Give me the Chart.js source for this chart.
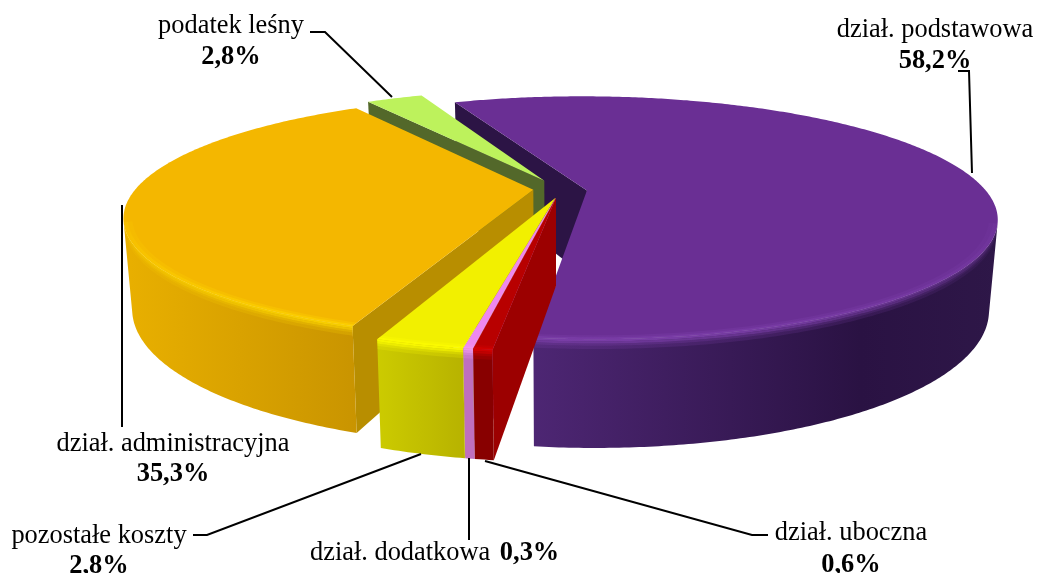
<!DOCTYPE html>
<html>
<head>
<meta charset="utf-8">
<style>
html, body { margin: 0; padding: 0; background: #fff; overflow: hidden; }
canvas { display: block; }
</style>
<script src="https://cdn.jsdelivr.net/npm/chart.js@4"></script>
</head>
<body>
<canvas id="pie" width="1037" height="573"></canvas>
<script>
// values as printed on the chart
var categories = ["dział. podstawowa", "dział. uboczna", "dział. dodatkowa", "pozostałe koszty", "dział. administracyjna", "podatek leśny"];
var shares = [58.2, 0.6, 0.3, 2.8, 35.3, 2.8];

var topColors = ["#6a2f94", "#b80000", "#ee88ee", "#f2f000", "#f4b700", "#bdf25c"];
var cutColors = ["#2c1445", "#9c0000", "#bb6fbb", "#b8b800", "#b88e00", "#53682a"];
var rimColors = ["#7e40ac", "#d80000", "#f09af0", "#ffff00", "#ffd800", "#c8f870"];
var wallStops = [
    [[535, "#4d2673"], [860, "#2a1243"], [1000, "#2e1748"]],
    [[465, "#880000"], [500, "#880000"]],
    [[455, "#bf6fbf"], [475, "#bf6fbf"]],
    [[378, "#cccb00"], [462, "#b8b300"]],
    [[122, "#e9b000"], [358, "#c99400"]],
    [[360, "#53682a"], [420, "#53682a"]]
];
var explode = [[0.0725, -0.012], [-0.005, 0.05], [-0.0055, 0.05], [-0.006, 0.05], [-0.062, -0.02], [-0.035, -0.1]];
var paintOrder = [0, 5, 4, 3, 2, 1];

// camera for the flat pie
var CX = 558, CY = 192, RX = 400, RY = 116, K = 0.224, H = 87, SHRINK = 0.02;

// label anchors: text lines and leader polylines
var leaders = [
    [[958, 71], [969, 71], [972, 173]],
    [[768, 535], [752, 535], [485, 461]],
    [[469, 458], [469, 540]],
    [[193, 535], [207, 535], [421, 454]],
    [[122, 205], [122, 427]],
    [[310, 32], [325, 32], [392, 97]]
];
var labelPos = [
    { x: 935, y: 37, y2: 68 },
    { x: 851, y: 540, y2: 572 },
    { x: 310, y: 560, inline: true },
    { x: 99, y: 543, y2: 573 },
    { x: 173, y: 451, y2: 481 },
    { x: 231, y: 33, y2: 64 }
];
var FONT_SIZE = 26.4;

// strips of the bright edge: [radius, depth, radius, depth, alpha]
var edgeBands = [
    [0.98, 0, 0.99, 0, 0.3], [0.99, 0, 1, 0, 0.7], [1, 0, 1, 0.02, 0.9],
    [1, 0.02, 1, 0.04, 0.7], [1, 0.04, 1, 0.06, 0.4], [1, 0.06, 1, 0.09, 0.2]
];

function project(u, v, z) {
    var p = 1 / (1 - K * v);
    var s = 1 - SHRINK * z;
    return { x: CX + RX * u * p * s, y: CY + RY * v * p * s + H * z * p };
}

function poly(ctx, pts, fill) {
    ctx.beginPath();
    pts.forEach(function (pt, i) {
        if (i === 0) ctx.moveTo(pt.x, pt.y); else ctx.lineTo(pt.x, pt.y);
    });
    ctx.closePath();
    ctx.fillStyle = fill;
    ctx.fill();
}

function area(pts) {
    var sum = 0;
    for (var i = 0; i < pts.length; i++) {
        var a = pts[i], b = pts[(i + 1) % pts.length];
        sum += a.x * b.y - b.x * a.y;
    }
    return sum;
}

function hexAlpha(hex, alpha) {
    var n = parseInt(hex.slice(1), 16);
    return "rgba(" + (n >> 16) + "," + ((n >> 8) & 255) + "," + (n & 255) + "," + alpha + ")";
}

function drawSlice(ctx, arc, i) {
    var du = explode[i][0], dv = explode[i][1];
    var a0 = arc.startAngle, a1 = arc.endAngle;
    var steps = Math.max(4, Math.ceil((a1 - a0) / 0.01));
    var rimAt = function (a, z, r) {
        return project(du + r * Math.cos(a), dv + r * Math.sin(a), z);
    };
    var apexTop = project(du, dv, 0), apexBot = project(du, dv, 1);

    // cut faces, only those turned to the viewer
    var startFace = [apexTop, rimAt(a0, 0, 1), rimAt(a0, 1, 1), apexBot];
    var endFace = [apexTop, apexBot, rimAt(a1, 1, 1), rimAt(a1, 0, 1)];
    if (area(startFace) < 0) poly(ctx, startFace, cutColors[i]);
    if (area(endFace) < 0) poly(ctx, endFace, cutColors[i]);

    // outer wall, front part only
    var angles = [];
    for (var s = 0; s < steps; s++) {
        var b0 = a0 + (a1 - a0) * s / steps, b1 = a0 + (a1 - a0) * (s + 1) / steps;
        var quad = [rimAt(b0, 0, 1), rimAt(b1, 0, 1), rimAt(b1, 1, 1), rimAt(b0, 1, 1)];
        if (area(quad) < 0) {
            if (!angles.length) angles.push(b0);
            angles.push(b1);
        }
    }
    var ring = function (r0, z0, r1, z1) {
        var outer = angles.map(function (a) { return rimAt(a, z0, r0); });
        var inner = angles.map(function (a) { return rimAt(a, z1, r1); });
        return outer.concat(inner.reverse());
    };
    if (angles.length) {
        var stops = wallStops[i];
        var x0 = stops[0][0], x1 = stops[stops.length - 1][0];
        var grad = ctx.createLinearGradient(x0, 0, x1, 0);
        stops.forEach(function (st) { grad.addColorStop((st[0] - x0) / (x1 - x0), st[1]); });
        poly(ctx, ring(1, 0, 1, 1), grad);
    }

    // top face
    var top = [apexTop];
    for (var t = 0; t <= steps; t++) top.push(rimAt(a0 + (a1 - a0) * t / steps, 0, 1));
    poly(ctx, top, arc.options.backgroundColor);

    // soft bright edge where the top meets the wall, fading out towards the sides
    if (angles.length) {
        var xs = angles.map(function (a) { return rimAt(a, 0, 1).x; });
        var xMin = Math.min.apply(null, xs), xMax = Math.max.apply(null, xs);
        edgeBands.forEach(function (b) {
            var g = ctx.createLinearGradient(xMin, 0, xMax, 0);
            for (var q = 0; q <= 12; q++) {
                var a = angles[Math.round(q * (angles.length - 1) / 12)];
                var fade = Math.max(0, Math.sin(a));
                g.addColorStop((rimAt(a, 0, 1).x - xMin) / Math.max(1, xMax - xMin), hexAlpha(rimColors[i], b[4] * fade));
            }
            poly(ctx, ring(b[0], b[1], b[2], b[3]), g);
        });
    }
}

function drawLabels(ctx) {
    ctx.strokeStyle = "#000";
    ctx.lineWidth = 2;
    ctx.fillStyle = "#000";
    ctx.textBaseline = "alphabetic";
    leaders.forEach(function (line) {
        ctx.beginPath();
        line.forEach(function (pt, i) {
            if (i === 0) ctx.moveTo(pt[0], pt[1]); else ctx.lineTo(pt[0], pt[1]);
        });
        ctx.stroke();
    });
    var normal = FONT_SIZE + 'px "Liberation Serif"';
    var bold = "bold " + FONT_SIZE + 'px "Liberation Serif"';
    categories.forEach(function (name, i) {
        var pos = labelPos[i];
        var pct = shares[i].toFixed(1).replace(".", ",") + "%";
        ctx.font = normal;
        if (pos.inline) {
            ctx.textAlign = "left";
            ctx.fillText(name + " ", pos.x, pos.y);
            var w = ctx.measureText(name + " ").width;
            ctx.font = bold;
            ctx.fillText(pct, pos.x + w + 3, pos.y);
        } else {
            ctx.textAlign = "center";
            ctx.fillText(name, pos.x, pos.y);
            ctx.font = bold;
            ctx.fillText(pct, pos.x, pos.y2);
        }
    });
}

// chart.js works out the slice angles, this plugin only paints them in 3d
var pie3d = {
    id: "pie3d",
    beforeDatasetsDraw: function (chart) {
        var ctx = chart.ctx;
        var arcs = chart.getDatasetMeta(0).data;
        ctx.save();
        paintOrder.forEach(function (i) { drawSlice(ctx, arcs[i], i); });
        drawLabels(ctx);
        ctx.restore();
        return false;
    }
};

new Chart(document.getElementById("pie").getContext("2d"), {
    type: "pie",
    data: {
        labels: categories,
        datasets: [{ data: shares, backgroundColor: topColors, borderWidth: 0 }]
    },
    options: {
        responsive: false,
        animation: false,
        rotation: -22.6,
        plugins: { legend: { display: false }, tooltip: { enabled: false } }
    },
    plugins: [pie3d]
});
</script>
</body>
</html>
